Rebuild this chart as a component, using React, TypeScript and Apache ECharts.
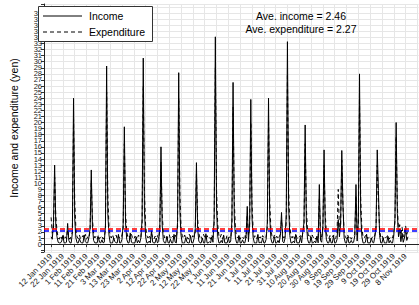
import React, { useEffect, useRef } from "react";
import * as echarts from "echarts";

// first day of data and first day of axis
const dataStart = [1919, 0, 12];
const axisStart = [1919, 0, 6];
const axisEnd = [1919, 10, 19];

const monthNames = ["Jan", "Feb", "Mar", "Apr", "May", "Jun", "Jul", "Aug", "Sep", "Oct", "Nov", "Dec"];

// daily income (yen), from 12 Jan 1919
const incomeData = [
  1.2, 0.8, 3.5,
  13.0,
  3.0, 1.2, 0.3, 0.2, 0.2, 0.5, 1.4, 0.2, 0.2, 0.3, 3.4, 0.6, 0.2, 0.2, 1.8,
  24.0,
  4.2, 1.0, 0.2, 0.2, 0.9, 0.3, 0.2, 0.2, 1.5, 0.4, 0.2, 0.2, 1.1, 2.6,
  12.2,
  2.8, 0.6, 0.2, 0.2, 0.2, 1.2, 0.3, 0.2, 0.7, 0.2, 0.3, 3.0,
  29.3,
  5.0, 1.5, 0.2, 0.2, 0.2, 1.0, 0.4, 0.2, 0.2, 1.6, 0.2, 0.2, 0.8, 3.2,
  19.3,
  3.5, 0.8, 0.2, 0.2, 1.8, 0.3, 0.2, 0.2, 0.2, 1.2, 0.2, 0.6, 0.2, 1.0, 4.0,
  30.6,
  5.5, 1.2, 0.2, 0.2, 0.5, 0.2, 2.2, 0.3, 0.2, 0.2, 1.0, 0.2, 0.4, 2.8,
  16.0,
  3.2, 0.6, 0.2, 0.2, 1.3, 0.2, 0.2, 0.8, 0.2, 0.2, 1.6, 0.3, 0.2, 3.6,
  28.2,
  5.2, 1.4, 0.2, 0.2, 0.2, 1.1, 0.3, 0.2, 0.2, 1.4, 0.2, 0.2, 0.9, 2.5,
  13.4,
  2.6, 0.5, 0.2, 0.2, 1.0, 0.2, 0.2, 1.7, 0.2, 0.2, 0.4, 0.2, 1.2, 0.3, 4.4,
  34.1,
  6.0, 1.3, 0.2, 0.2, 0.6, 0.2, 1.5, 0.2, 0.2, 0.2, 1.0, 0.2, 0.5, 3.8,
  26.6,
  4.6, 1.0, 0.2, 0.2, 1.4, 0.2, 0.2, 0.7, 0.2, 0.2, 1.2, 6.2, 0.4, 3.4,
  23.8,
  4.4, 1.1, 0.2, 0.2, 0.2, 1.6, 0.2, 0.3, 0.2, 1.0, 0.2, 0.2, 0.8, 3.6,
  24.0,
  4.5, 0.9, 0.2, 0.2, 1.2, 0.2, 0.2, 0.6, 0.2, 1.4, 5.2, 0.4, 0.2, 1.0, 4.8,
  33.3,
  6.2, 1.4, 0.2, 0.2, 0.5, 0.2, 1.6, 0.2, 0.2, 0.2, 1.1, 0.2, 2.0, 3.5,
  19.6,
  3.8, 0.8, 0.2, 0.2, 1.2, 0.2, 0.2, 0.5, 0.2, 1.3, 0.2, 9.8, 0.6, 0.3, 3.0,
  15.5,
  3.0, 0.7, 0.2, 0.2, 1.0, 0.2, 0.2, 1.3, 0.2, 0.2, 0.8, 4.0, 1.2, 3.3,
  15.4,
  6.3, 1.0, 0.2, 0.2, 1.2, 0.2, 0.2, 0.6, 0.2, 0.3, 1.4, 9.8, 0.5, 3.9,
  28.0,
  5.0, 1.2, 0.2, 0.2, 0.3, 1.6, 0.2, 0.2, 0.2, 1.0, 0.3, 0.2, 1.2, 3.0,
  15.5,
  8.8, 1.4, 0.2, 0.2, 1.0, 0.2, 0.2, 0.2, 1.3, 0.2, 0.6, 0.2, 0.2, 1.5, 4.2,
  20.0,
  5.0, 1.2, 2.5, 0.4, 1.8, 0.3, 1.0, 2.4, 0.6, 1.2,
];

// daily expenditure (yen), from 12 Jan 1919
const expenditureData = [
  4.4, 1.8, 2.2,
  11.0,
  4.5, 2.2, 1.0, 0.8, 1.4, 0.9, 1.6, 0.7, 1.2, 0.9, 2.4, 1.1, 0.8, 1.3, 2.0,
  20.5,
  7.0, 2.6, 1.2, 0.9, 1.5, 0.8, 1.1, 1.4, 0.9, 1.6, 0.8, 1.2, 1.0, 2.2,
  10.5,
  4.0, 1.8, 1.0, 1.3, 0.8, 1.5, 0.9, 1.1, 1.4, 0.8, 1.2, 2.4,
  25.0,
  8.0, 2.8, 1.3, 1.0, 1.6, 0.9, 1.2, 1.5, 0.8, 1.3, 1.0, 0.9, 1.5, 2.6,
  16.5,
  5.2, 2.0, 1.1, 1.4, 0.9, 1.6, 1.0, 0.8, 1.3, 1.1, 0.9, 1.5, 1.0, 1.2, 3.0,
  26.0,
  8.5, 3.0, 1.4, 1.0, 1.5, 0.9, 1.7, 1.1, 0.8, 1.3, 1.0, 1.4, 0.9, 2.4,
  13.5,
  5.0, 2.0, 1.0, 1.4, 0.9, 1.2, 1.6, 0.8, 1.1, 1.3, 0.9, 1.5, 1.0, 2.8,
  24.0,
  8.0, 2.6, 1.3, 0.9, 1.5, 1.0, 1.2, 0.8, 1.6, 1.1, 0.9, 1.4, 1.2, 2.0,
  11.5,
  4.2, 1.8, 1.0, 1.3, 0.8, 1.6, 1.1, 0.9, 1.4, 1.0, 1.2, 0.8, 1.5, 1.1, 3.4,
  29.0,
  9.0, 3.2, 1.4, 1.0, 1.6, 0.9, 1.3, 1.1, 0.8, 1.5, 1.0, 1.2, 0.9, 3.0,
  22.5,
  7.2, 2.4, 1.2, 1.0, 1.5, 0.8, 1.3, 1.1, 0.9, 1.6, 1.0, 4.8, 1.4, 2.6,
  20.0,
  6.8, 2.4, 1.1, 1.4, 0.9, 1.5, 1.0, 1.2, 0.8, 1.4, 1.1, 0.9, 1.3, 2.8,
  20.5,
  7.0, 2.5, 1.2, 0.9, 1.5, 1.0, 1.3, 0.8, 1.2, 1.6, 4.0, 1.4, 1.0, 1.3, 3.6,
  28.0,
  9.0, 3.0, 1.3, 1.0, 1.5, 0.9, 1.6, 1.1, 0.8, 1.2, 1.4, 0.9, 1.8, 2.8,
  16.5,
  6.0, 2.2, 1.1, 1.4, 0.9, 1.5, 1.0, 1.2, 0.8, 1.3, 1.0, 7.5, 1.6, 1.2, 2.6,
  13.0,
  4.8, 1.8, 1.1, 0.9, 1.4, 1.0, 1.2, 1.5, 0.8, 1.1, 2.0, 9.0, 2.2, 3.0,
  13.8,
  6.4, 2.0, 1.2, 0.9, 1.5, 1.0, 1.3, 0.8, 1.2, 1.4, 1.6, 8.0, 1.5, 3.2,
  24.0,
  7.5, 2.6, 1.2, 1.0, 1.4, 1.6, 0.9, 1.1, 1.3, 0.8, 1.2, 1.0, 1.5, 2.6,
  13.0,
  7.0, 2.4, 1.1, 1.4, 0.9, 1.3, 1.0, 1.2, 1.5, 0.8, 1.1, 1.3, 1.0, 2.0, 3.6,
  17.7,
  6.5, 2.0, 3.2, 1.5, 2.8, 1.2, 2.0, 3.0, 1.6, 2.4,
];

const aveIncome = 2.46;
const aveExpenditure = 2.27;

const xTickLabels = [
  "12 Jan 1919", "22 Jan 1919", "1 Feb 1919", "11 Feb 1919", "21 Feb 1919",
  "3 Mar 1919", "13 Mar 1919", "23 Mar 1919", "2 Apr 1919", "12 Apr 1919",
  "22 Apr 1919", "2 May 1919", "12 May 1919", "22 May 1919", "1 Jun 1919",
  "11 Jun 1919", "21 Jun 1919", "1 Jul 1919", "11 Jul 1919", "21 Jul 1919",
  "31 Jul 1919", "10 Aug 1919", "20 Aug 1919", "30 Aug 1919", "9 Sep 1919",
  "19 Sep 1919", "29 Sep 1919", "9 Oct 1919", "19 Oct 1919", "29 Oct 1919",
  "8 Nov 1919",
];
const xGridOnly = ["18 Nov 1919"];

const yMin = -1.3;
const yMax = 39.5;
const yLabelMax = 38;

const FONT = "Liberation Sans, Arial, Helvetica, sans-serif";

function fmtDate(d: Date) {
  return `${d.getUTCDate()} ${monthNames[d.getUTCMonth()]} ${d.getUTCFullYear()}`;
}

function buildCategories() {
  const cats: string[] = [];
  const d = new Date(Date.UTC(axisStart[0], axisStart[1], axisStart[2]));
  const end = Date.UTC(axisEnd[0], axisEnd[1], axisEnd[2]);
  while (d.getTime() <= end) {
    cats.push(fmtDate(d));
    d.setUTCDate(d.getUTCDate() + 1);
  }
  return cats;
}

export default function App() {
  const ref = useRef<HTMLDivElement>(null);
  useEffect(() => {
    if (!ref.current) return;
    const chart = echarts.init(ref.current, undefined, { renderer: "svg" });
    const categories = buildCategories();
    const startLabel = fmtDate(new Date(Date.UTC(dataStart[0], dataStart[1], dataStart[2])));
    const offset = categories.indexOf(startLabel);
    const incomeSeries = incomeData.map((v, i) => [i + offset, v]);
    const expSeries = expenditureData.map((v, i) => [i + offset, v]);
    const tickSet = new Set(xTickLabels);
    const gridSet = new Set([...xTickLabels, ...xGridOnly]);

    chart.setOption({
      animation: false,
      backgroundColor: "#ffffff",
      textStyle: { fontFamily: FONT },
      grid: { left: 35, right: 0.4, top: 4, bottom: 53, containLabel: false },
      xAxis: {
        type: "category",
        data: categories,
        boundaryGap: false,
        axisLine: { show: true, lineStyle: { color: "#222", width: 1 } },
        axisTick: {
          show: true,
          length: 3,
          lineStyle: { color: "#333" },
          interval: (_i: number, v: string) => tickSet.has(v),
        },
        axisLabel: {
          rotate: 45,
          fontSize: 8,
          color: "#222",
          margin: 3,
          fontFamily: FONT,
          interval: (_i: number, v: string) => tickSet.has(v),
        },
        splitLine: {
          show: true,
          lineStyle: { color: "#e6e6e6", width: 1 },
          interval: (_i: number, v: string) => gridSet.has(v),
        },
      },
      yAxis: {
        type: "value",
        min: yMin,
        max: yMax,
        splitNumber: 40,
        minInterval: 1,
        maxInterval: 1,
        name: "Income and expenditure (yen)",
        nameLocation: "middle",
        nameGap: 25,
        nameTextStyle: { fontSize: 10.5, color: "#000", fontFamily: FONT },
        axisLine: { show: true, lineStyle: { color: "#222", width: 1 } },
        axisTick: { show: true, length: 3, lineStyle: { color: "#333" } },
        axisLabel: {
          fontSize: 7.5,
          lineHeight: 6,
          color: "#222",
          margin: 2,
          fontFamily: FONT,
          formatter: (v: number) =>
            Math.abs(v - Math.round(v)) < 1e-6 && v >= 0 && v <= yLabelMax ? String(Math.round(v)) : "",
        },
        splitLine: { show: true, lineStyle: { color: "#e6e6e6", width: 1 } },
      },
      series: [
        {
          name: "Income",
          type: "line",
          data: incomeSeries,
          symbol: "none",
          lineStyle: { color: "#000", width: 1 },
          z: 3,
          markLine: {
            silent: true,
            symbol: "none",
            label: { show: false },
            data: [
              { yAxis: aveIncome, lineStyle: { color: "#ff0000", type: [5, 3], width: 1.5 } },
            ],
          },
        },
        {
          name: "Expenditure",
          type: "line",
          data: expSeries,
          symbol: "none",
          lineStyle: { color: "#000", width: 1, type: [4, 3] },
          z: 4,
          markLine: {
            silent: true,
            symbol: "none",
            label: { show: false },
            data: [
              { yAxis: aveExpenditure, lineStyle: { color: "#0000ff", type: [5, 3], width: 1.5 } },
            ],
          },
        },
      ],
      graphic: [
        {
          type: "rect",
          shape: { x: 38.5, y: 6.5, width: 114, height: 35 },
          style: { fill: "#fff", stroke: "#333", lineWidth: 1 },
          z: 100,
        },
        {
          type: "line",
          shape: { x1: 43, y1: 16, x2: 82, y2: 16 },
          style: { stroke: "#000", lineWidth: 1 },
          z: 101,
        },
        {
          type: "line",
          shape: { x1: 43, y1: 32, x2: 82, y2: 32 },
          style: { stroke: "#000", lineWidth: 1, lineDash: [4, 3] },
          z: 101,
        },
        {
          type: "text",
          x: 89,
          y: 16,
          style: { text: "Income", fontSize: 10.5, fill: "#000", fontFamily: FONT, verticalAlign: "middle" },
          z: 101,
        },
        {
          type: "text",
          x: 89,
          y: 32,
          style: { text: "Expenditure", fontSize: 10.5, fill: "#000", fontFamily: FONT, verticalAlign: "middle" },
          z: 101,
        },
        {
          type: "text",
          x: 301,
          y: 16,
          style: {
            text: `Ave. income = ${aveIncome.toFixed(2)}`,
            fontSize: 10.5,
            fill: "#000",
            fontFamily: FONT,
            align: "center",
            verticalAlign: "middle",
          },
          z: 101,
        },
        {
          type: "text",
          x: 301,
          y: 29,
          style: {
            text: `Ave. expenditure = ${aveExpenditure.toFixed(2)}`,
            fontSize: 10.5,
            fill: "#000",
            fontFamily: FONT,
            align: "center",
            verticalAlign: "middle",
          },
          z: 101,
        },
      ],
    });
    return () => chart.dispose();
  }, []);
  return (
    <div
      ref={ref}
      style={{ position: "fixed", left: 0, top: 0, width: 419, height: 305 }}
    />
  );
}
